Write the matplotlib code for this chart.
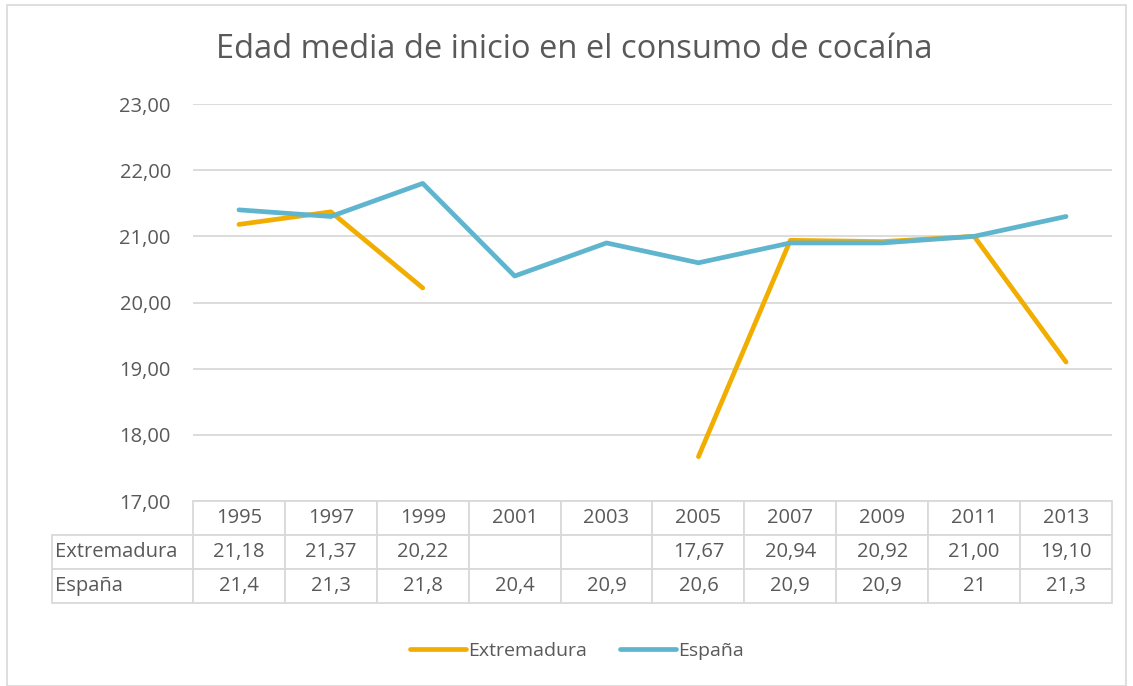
import numpy as np
import matplotlib.pyplot as plt
from matplotlib.table import Table
from matplotlib.patches import Rectangle

plt.rcParams['font.family'] = ['Open Sans', 'DejaVu Sans']

# data
years = ["1995", "1997", "1999", "2001", "2003", "2005", "2007", "2009", "2011", "2013"]
extremadura = [21.18, 21.37, 20.22, None, None, 17.67, 20.94, 20.92, 21.00, 19.10]
espana = [21.4, 21.3, 21.8, 20.4, 20.9, 20.6, 20.9, 20.9, 21.0, 21.3]
series_names = ["Extremadura", "España"]
yticks = [17, 18, 19, 20, 21, 22, 23]

c_ext = "#F2AE00"
c_esp = "#5FB5CE"
grey_txt = "#595959"
grid_c = "#D9D9D9"

fig = plt.figure(figsize=(11.33, 6.86), dpi=100)
ax = fig.add_axes([193/1133, 1-501/686, 919/1133, 397/686])

x = np.arange(len(years))
ext_arr = np.array([np.nan if v is None else v for v in extremadura])
ax.plot(x, ext_arr, color=c_ext, lw=3.4, solid_capstyle='round', label=series_names[0])
ax.plot(x, espana, color=c_esp, lw=3.4, solid_capstyle='round', label=series_names[1])

ax.set_xlim(-0.5, len(years) - 0.5)
ax.set_ylim(17, 23)
ax.set_yticks(yticks)
ax.set_yticklabels([f"{v:.2f}".replace('.', ',') for v in yticks], color=grey_txt, fontsize=14.5)
ax.tick_params(axis='y', length=0, pad=16)
ax.set_xticks([])
ax.grid(axis='y', color=grid_c, lw=1.3)
ax.set_axisbelow(True)
for s in ax.spines.values():
    s.set_visible(False)

# data table under the plot
def fmt_ext(v):
    return "" if v is None else f"{v:.2f}".replace('.', ',')

def fmt_esp(v):
    return f"{v:g}".replace('.', ',')

rows = [[fmt_ext(v) for v in extremadura], [fmt_esp(v) for v in espana]]

lab_w = 141 / 919
col_w = 1 / len(years)
row_h = 34 / 397
tbl = Table(ax, bbox=[-lab_w, -3 * row_h, 1 + lab_w, 3 * row_h])
for j, yr in enumerate(years):
    tbl.add_cell(0, j + 1, col_w, row_h, text=yr, loc='center')
for i, (name, vals) in enumerate(zip(series_names, rows)):
    tbl.add_cell(i + 1, 0, lab_w, row_h, text=name, loc='left')
    for j, t in enumerate(vals):
        tbl.add_cell(i + 1, j + 1, col_w, row_h, text=t, loc='center')
tbl.auto_set_font_size(False)
tbl.set_fontsize(14.5)
for key, cell in tbl.get_celld().items():
    cell.set_edgecolor(grid_c)
    cell.set_linewidth(1.3)
    cell.get_text().set_color(grey_txt)
    if key[1] == 0:
        cell.PAD = 0.02
ax.add_table(tbl)

fig.text(574/1133, 1-49/686, "Edad media de inicio en el consumo de cocaína",
         ha='center', va='center', fontsize=23.5, color=grey_txt)

leg = fig.legend(loc='center', bbox_to_anchor=(577/1133, 1-651/686), ncol=2, frameon=False,
                 fontsize=14, handlelength=2.9, handletextpad=0.1, columnspacing=1.7)
for t in leg.get_texts():
    t.set_color(grey_txt)

fig.patches.append(Rectangle((7/1133, 0.0), 1119/1133, 1-5/686, transform=fig.transFigure,
                             fill=False, edgecolor=grid_c, lw=1.2))

fig.savefig("out.png", dpi=100, facecolor="white")
